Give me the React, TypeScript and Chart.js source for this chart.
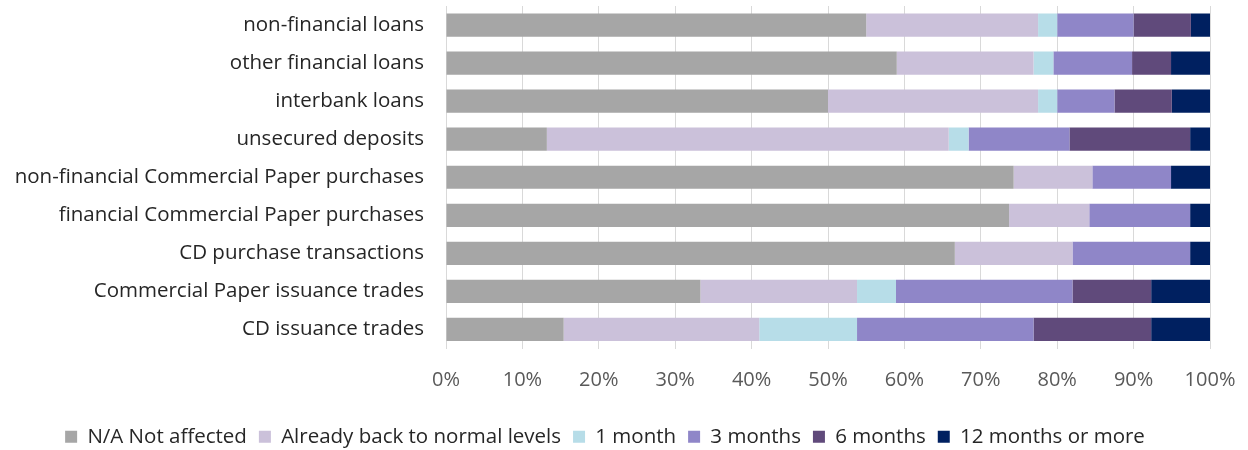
import React, { useEffect, useRef } from "react";
import { Chart, registerables } from "chart.js";

Chart.register(...registerables);

const categories = [
  "non-financial loans",
  "other financial loans",
  "interbank loans",
  "unsecured deposits",
  "non-financial Commercial Paper purchases",
  "financial Commercial Paper purchases",
  "CD purchase transactions",
  "Commercial Paper issuance trades",
  "CD issuance trades",
];

const seriesNames = [
  "N/A Not affected",
  "Already back to normal levels",
  "1 month",
  "3 months",
  "6 months",
  "12 months or more",
];

const notAffected = [55.0, 59.0, 50.0, 13.2, 74.3, 73.7, 66.6, 33.3, 15.4];
const backToNormal = [22.5, 17.9, 27.5, 52.6, 10.3, 10.5, 15.4, 20.5, 25.6];
const oneMonth = [2.5, 2.6, 2.5, 2.6, 0, 0, 0, 5.1, 12.8];
const threeMonths = [10.0, 10.3, 7.5, 13.2, 10.3, 13.2, 15.4, 23.1, 23.1];
const sixMonths = [7.5, 5.1, 7.5, 15.8, 0, 0, 0, 10.3, 15.4];
const twelveMonths = [2.5, 5.1, 5.0, 2.6, 5.1, 2.6, 2.6, 7.7, 7.7];

const xTicks = [0, 10, 20, 30, 40, 50, 60, 70, 80, 90, 100];

const colors = ["#A6A6A6", "#CBC1DA", "#B7DDE8", "#8F86C8", "#604A7B", "#002060"];

const FONT = "'Open Sans', sans-serif";

export default function App() {
  const ref = useRef<HTMLCanvasElement>(null);

  useEffect(() => {
    document.body.style.margin = "0";
    if (!ref.current) return;
    const values = [notAffected, backToNormal, oneMonth, threeMonths, sixMonths, twelveMonths];
    const chart = new Chart(ref.current, {
      type: "bar",
      data: {
        labels: categories,
        datasets: values.map((v, i) => ({
          label: seriesNames[i],
          data: v,
          backgroundColor: colors[i],
          borderWidth: 0,
          barPercentage: 0.61,
          categoryPercentage: 1,
        })),
      },
      options: {
        indexAxis: "y",
        responsive: false,
        animation: false,
        layout: { padding: { top: 6, right: 38, left: 0, bottom: -7 } },
        plugins: {
          tooltip: { enabled: false },
          legend: {
            position: "bottom",
            labels: {
              boxWidth: 12,
              boxHeight: 12,
              padding: 12,
              color: "#262626",
              font: { family: FONT, size: 20.5 },
            },
          },
        },
        scales: {
          x: {
            stacked: true,
            min: 0,
            max: 100,
            afterBuildTicks: (scale: any) => {
              scale.ticks = xTicks.map((v) => ({ value: v }));
            },
            afterFit: (scale: any) => {
              scale.height = 66;
              scale.paddingLeft = 0;
              scale.paddingRight = 0;
            },
            grid: { color: "#D9D9D9", lineWidth: 1, drawTicks: false },
            border: { display: false },
            ticks: {
              padding: 20,
              color: "#595959",
              font: { family: FONT, size: 20 },
              callback: (v: any) => v + "%",
            },
          },
          y: {
            stacked: true,
            afterFit: (scale: any) => {
              scale.width = 446;
              scale.paddingTop = 0;
              scale.paddingBottom = 0;
            },
            grid: { display: false, drawTicks: false },
            border: { display: false },
            ticks: {
              padding: 22,
              color: "#262626",
              font: { family: FONT, size: 20.5 },
            },
          },
        },
      },
    });
    return () => chart.destroy();
  }, []);

  return (
    <div style={{ width: 1248, height: 450 }}>
      <canvas ref={ref} width={1248} height={450} />
    </div>
  );
}
